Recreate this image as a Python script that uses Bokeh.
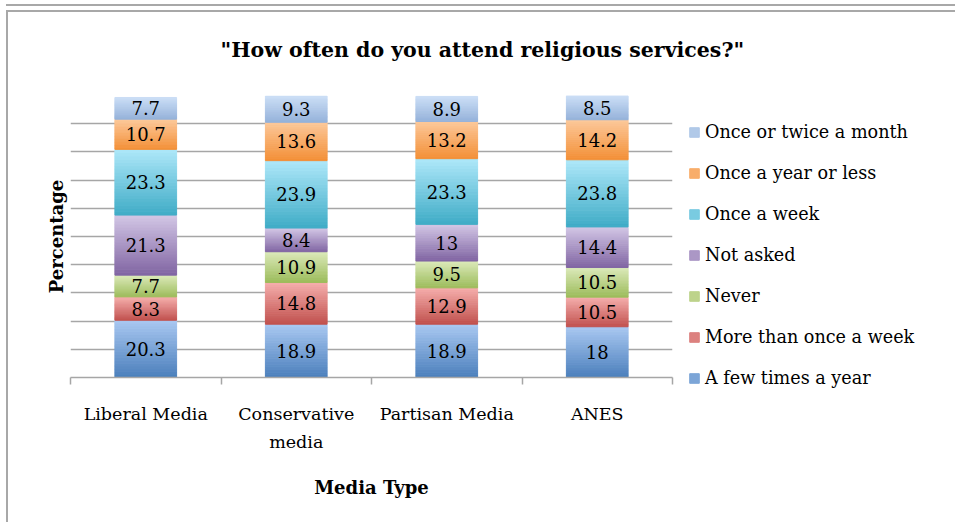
from bokeh.plotting import figure
from bokeh.models import (
    ColumnDataSource,
    FixedTicker,
    Legend,
    LegendItem,
)
from bokeh.core.properties import value
from bokeh.embed import file_html
from bokeh.resources import INLINE

# --- data (stack order: bottom -> top) ---
categories = ["Liberal Media", "Conservative\nmedia", "Partisan Media", "ANES"]
series = [
    "A few times a year",
    "More than once a week",
    "Never",
    "Not asked",
    "Once a week",
    "Once a year or less",
    "Once or twice a month",
]
few_times_a_year = [20.3, 18.9, 18.9, 18]
more_than_once_a_week = [8.3, 14.8, 12.9, 10.5]
never = [7.7, 10.9, 9.5, 10.5]
not_asked = [21.3, 8.4, 13, 14.4]
once_a_week = [23.3, 23.9, 23.3, 23.8]
once_a_year_or_less = [10.7, 13.6, 13.2, 14.2]
once_or_twice_a_month = [7.7, 9.3, 8.9, 8.5]
values = [
    few_times_a_year,
    more_than_once_a_week,
    never,
    not_asked,
    once_a_week,
    once_a_year_or_less,
    once_or_twice_a_month,
]

# gradient colours per series (top, bottom) - Excel 2007 style
grad = [
    ("#a9c8f1", "#4a7ebb"),
    ("#f5aeac", "#c0504d"),
    ("#dbe9b9", "#9bbb59"),
    ("#d2c6e5", "#8064a2"),
    ("#aee8f9", "#3fabc6"),
    ("#fcc89a", "#f38f36"),
    ("#cbdef6", "#94b1d9"),
]

FONT = "DejaVu Serif"
GRID = "#a6a6a6"
BAR_W = 0.41
NBANDS = 20


def mix(c1, c2, t):
    a = [int(c1[i:i + 2], 16) for i in (1, 3, 5)]
    b = [int(c2[i:i + 2], 16) for i in (1, 3, 5)]
    return "#%02x%02x%02x" % tuple(round(a[k] + (b[k] - a[k]) * t) for k in range(3))


p = figure(
    frame_width=602,
    frame_height=282,
    x_range=(0, len(categories)),
    y_range=(0, 100),
    output_backend="svg",
    toolbar_location=None,
    min_border_left=62,
    min_border_right=0,
    min_border_top=83,
    min_border_bottom=145,
    outline_line_color=None,
)
# chart-area frame (Excel style box) + bottom edge of the box above it
p.styles = {
    "margin-left": "6px",
    "margin-top": "10px",
    "border-left": "2px solid #a8a8a8",
    "border-top": "2px solid #a8a8a8",
    "box-shadow": "0 -4px 0 0 #ffffff, 0 -6px 0 0 #a8a8a8",
}

# title (blank second line lifts the text within its panel)
p.title.text = '"How often do you attend religious services?"\n '
p.title.text_font = FONT
p.title.text_font_size = "20.5px"
p.title.text_font_style = "bold"
p.title.text_color = "#000000"
p.title.align = "left"
p.title.offset = 150
p.title.standoff = 19

# grid
p.xgrid.visible = False
p.ygrid.ticker = FixedTicker(ticks=list(range(0, 101, 10)))
p.ygrid.grid_line_color = GRID
p.ygrid.grid_line_width = 1.5

# y axis: only the title
p.yaxis.ticker = FixedTicker(ticks=[])
p.yaxis.axis_line_color = None
p.yaxis.major_tick_line_color = None
p.yaxis.minor_tick_line_color = None
p.yaxis.axis_label = "Percentage"
p.yaxis.axis_label_text_font = FONT
p.yaxis.axis_label_text_font_style = "bold"
p.yaxis.axis_label_text_font_size = "18px"
p.yaxis.axis_label_text_color = "#000000"
p.yaxis.axis_label_standoff = 4

# x axis: labels at centres, ticks at boundaries
centers = [i + 0.5 for i in range(len(categories))]
p.xaxis.ticker = FixedTicker(ticks=centers, minor_ticks=list(range(len(categories) + 1)))
p.xaxis.major_label_overrides = {c: name for c, name in zip(centers, categories)}
p.xaxis.major_tick_line_color = None
p.xaxis.major_tick_out = 0
p.xaxis.major_tick_in = 0
p.xaxis.minor_tick_line_color = GRID
p.xaxis.minor_tick_line_width = 1.5
p.xaxis.minor_tick_out = 7
p.xaxis.minor_tick_in = 0
p.xaxis.axis_line_color = GRID
p.xaxis.axis_line_width = 1.5
p.xaxis.major_label_text_font = FONT
p.xaxis.major_label_text_font_size = "17.5px"
p.xaxis.major_label_text_color = "#000000"
p.xaxis.major_label_text_line_height = 1.4
p.xaxis.major_label_standoff = 19
p.xaxis.axis_label = "Media Type"
p.xaxis.axis_label_text_font = FONT
p.xaxis.axis_label_text_font_style = "bold"
p.xaxis.axis_label_text_font_size = "18px"
p.xaxis.axis_label_text_color = "#000000"
p.xaxis.axis_label_standoff = 22

# stacked bars with vertical gradient bands
renderers = []
base = [0.0] * len(categories)
lab = {"x": [], "y": [], "t": []}
for s, vals in enumerate(values):
    top_c, bot_c = grad[s]
    d = {"left": [], "right": [], "bottom": [], "top": [], "color": []}
    for i, v in enumerate(vals):
        for j in range(NBANDS):
            d["left"].append(centers[i] - BAR_W / 2)
            d["right"].append(centers[i] + BAR_W / 2)
            d["bottom"].append(base[i] + v * j / NBANDS)
            d["top"].append(base[i] + v * (j + 1) / NBANDS)
            d["color"].append(mix(bot_c, top_c, (j + 0.5) / NBANDS))
        lab["x"].append(centers[i])
        lab["y"].append(base[i] + v / 2)
        lab["t"].append(f"{v:g}")
        base[i] += v
    r = p.quad(
        left="left", right="right", bottom="bottom", top="top",
        fill_color="color", line_color="color", line_width=1,
        source=ColumnDataSource(d),
    )
    renderers.append(r)

p.text(
    x="x", y="y", text="t", source=ColumnDataSource(lab),
    text_font=value(FONT), text_font_size="18px",
    text_align="center", text_baseline="middle", text_color="#000000",
)

# legend (top of stack first), in its own panel on the right
items = [
    LegendItem(label=series[s], renderers=[renderers[s]], index=NBANDS // 2)
    for s in reversed(range(len(series)))
]
legend = Legend(
    items=items,
    location="top_left",
    orientation="vertical",
    title=" ",
    title_text_font_size="1px",
    title_standoff=10,
    border_line_color=None,
    background_fill_alpha=0,
    padding=0,
    margin=16,
    spacing=21,
    glyph_width=12,
    glyph_height=12,
    label_height=20,
    label_standoff=5,
    label_text_font=FONT,
    label_text_font_size="17.6px",
    label_text_color="#000000",
)
p.add_layout(legend, "right")

open("out.html", "w").write(file_html(p, INLINE))
